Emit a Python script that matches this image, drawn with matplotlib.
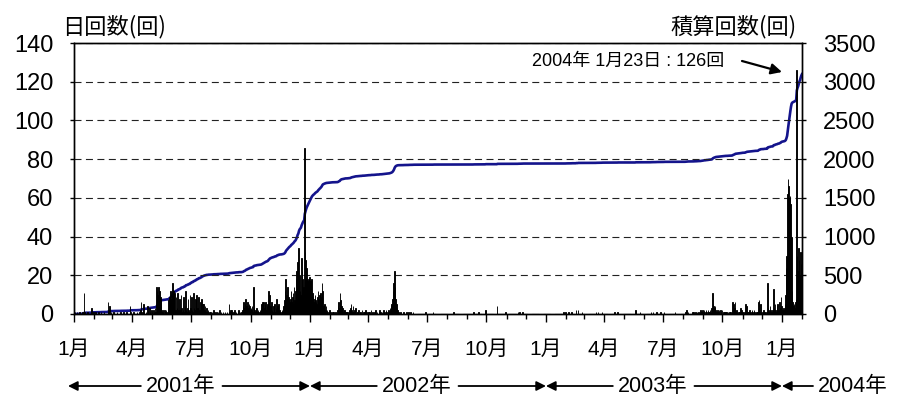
import numpy as np
import pandas as pd
import matplotlib
matplotlib.use("Agg")
import matplotlib.pyplot as plt
import matplotlib.dates as mdates
from matplotlib.ticker import FuncFormatter, MultipleLocator

# ---- daily counts, one list per month (day 1 .. end of month) ----
d2001_01 = [0,1,0,0,1,0,0,0,1,0,0,0,0,1,0,11,1,0,0,0,1,0,0,0,0,0,1,3,0,0,1]
d2001_02 = [0,0,1,0,0,0,1,0,0,0,1,0,0,0,0,1,0,0,0,0,0,6,1,4,0,0,1,0]
d2001_03 = [0,0,1,0,0,0,0,1,0,0,0,0,1,0,0,0,0,1,0,0,0,0,1,0,0,0,0,4,1,0,0]
d2001_04 = [0,0,1,0,0,0,0,1,0,0,0,1,2,6,1,0,2,5,1,0,0,1,0,4,2,0,3,1,0,2]
d2001_05 = [1,0,2,1,0,3,1,14,12,10,14,10,12,9,8,1,2,1,0,2,1,1,2,0,1,2,7,9,5,12,8]
d2001_06 = [10,16,12,9,11,2,9,1,3,11,2,1,8,2,10,3,1,2,9,1,4,12,2,1,3,8,2,1,10,3]
d2001_07 = [9,2,1,11,3,2,8,1,10,2,3,9,1,2,6,3,8,5,3,5,2,4,1,3,0,1,2,0,1,0,1]
d2001_08 = [0,1,0,2,0,1,0,0,1,0,1,0,0,2,0,1,0,0,1,0,0,1,0,0,1,0,0,5,1,0,2]
d2001_09 = [2,1,0,1,0,2,0,1,0,0,1,2,0,1,0,0,1,2,4,6,3,5,8,4,2,6,3,5,4,2]
d2001_10 = [3,2,4,1,14,3,2,1,2,3,1,2,1,0,2,1,3,5,6,4,6,3,5,6,2,4,5,12,8,10,4]
d2001_11 = [3,6,2,1,4,2,5,1,3,8,4,1,5,2,1,0,1,2,1,3,4,7,12,18,10,8,14,9,8,6]
d2001_12 = [8,12,6,9,11,5,14,7,12,18,22,27,16,34,20,12,10,29,22,18,14,10,86,32,28,24,19,17,18,16,19]
d2002_01 = [17,16,18,11,9,6,8,10,7,6,5,9,12,8,10,7,11,9,16,12,4,3,5,2,4,1,2,1,0,1,2]
d2002_02 = [1,0,0,1,0,1,0,0,1,0,0,2,4,6,3,11,7,4,2,3,1,2,2,1,0,1,0,1]
d2002_03 = [0,1,2,3,5,2,1,4,1,2,1,3,0,1,1,0,2,0,1,1,0,2,0,1,0,1,2,0,1,0,1]
d2002_04 = [1,0,1,0,2,0,1,0,0,1,0,2,0,1,0,0,1,2,0,1,0,1,0,2,1,0,1,2,1,0]
d2002_05 = [1,2,1,3,2,4,5,8,12,16,22,14,8,5,3,2,1,0,0,1,0,0,0,0,1,0,0,0,0,1,0]
d2003_08 = [0,0,0,1,0,2,0,1,0,0,0,0,0,0,1,0,1,0,0,1,0,1,0,1,0,0,1,2,1,1,2]
d2003_09 = [1,2,0,1,2,1,0,2,1,1,2,0,1,3,11,5,4,3,4,2,1,0,2,1,2,0,2,1,0,2]
d2003_10 = [0,1,0,1,1,0,1,0,1,0,1,0,1,0,1,6,2,5,3,6,1,2,1,0,1,0,1,3,1,2,1]
d2003_11 = [1,0,0,1,5,2,4,1,0,1,2,1,0,1,2,0,1,2,1,0,0,1,0,1,6,7,1,5,1,0]
d2003_12 = [1,0,2,1,1,0,0,1,16,3,2,1,4,2,1,0,2,13,3,1,5,2,1,4,5,2,1,6,3,9,4]
d2004_01 = [2,1,3,2,5,10,24,30,62,70,66,60,61,57,40,12,6,4,5,3,6,8,126,30,22,34,28,20,32,26,18]

# ---- quiet stretch (Jun 2002 - Jul 2003): only the days with events ----
quiet_dates = ["2002-06-02", "2002-06-05", "2002-06-09", "2002-06-28", "2002-07-10",
               "2002-08-10", "2002-09-10", "2002-09-18", "2002-09-29", "2002-10-17",
               "2002-10-30", "2002-11-18", "2002-11-21", "2002-11-25", "2003-01-28",
               "2003-01-31", "2003-02-04", "2003-02-09", "2003-02-16", "2003-02-19",
               "2003-02-25", "2003-03-19", "2003-03-22", "2003-03-28", "2003-04-16",
               "2003-04-21", "2003-05-19", "2003-05-26", "2003-06-12", "2003-06-15",
               "2003-06-20", "2003-06-27", "2003-07-02", "2003-07-19"]
quiet_counts = [1, 1, 1, 1, 1, 1, 1, 1, 2, 4,
                1, 1, 1, 1, 1, 1, 1, 1, 2, 2,
                1, 1, 1, 1, 1, 1, 2, 1, 1, 1,
                1, 1, 1, 1]

month_ticks = ["1月", "4月", "7月", "10月"]
year_labels = ["2001年", "2002年", "2003年", "2004年"]

monthly_blocks = [
    ("2001-01", d2001_01), ("2001-02", d2001_02), ("2001-03", d2001_03),
    ("2001-04", d2001_04), ("2001-05", d2001_05), ("2001-06", d2001_06),
    ("2001-07", d2001_07), ("2001-08", d2001_08), ("2001-09", d2001_09),
    ("2001-10", d2001_10), ("2001-11", d2001_11), ("2001-12", d2001_12),
    ("2002-01", d2002_01), ("2002-02", d2002_02), ("2002-03", d2002_03),
    ("2002-04", d2002_04), ("2002-05", d2002_05),
    ("2003-08", d2003_08), ("2003-09", d2003_09), ("2003-10", d2003_10),
    ("2003-11", d2003_11), ("2003-12", d2003_12), ("2004-01", d2004_01),
]

parts = []
for month, vals in monthly_blocks:
    idx = pd.date_range(month + "-01", periods=len(vals), freq="D")
    parts.append(pd.Series(vals, index=idx))
parts.append(pd.Series(quiet_counts, index=pd.to_datetime(quiet_dates)))
daily = pd.concat(parts).groupby(level=0).sum()
days = pd.date_range("2001-01-01", "2004-01-31", freq="D")
daily = daily.reindex(days, fill_value=0)
cumulative = daily.cumsum()

# ---- figure ----
W, H = 901, 397
fig = plt.figure(figsize=(W / 100, H / 100), dpi=100)
ax = fig.add_axes([74 / W, (H - 314) / H, 728 / W, 271 / H])
ax2 = ax.twinx()
ax.set_zorder(ax2.get_zorder() + 1)
ax.patch.set_visible(False)

num_font = ["Liberation Sans", "Noto Sans CJK JP"]
cjk_font = ["Noto Sans CJK JP", "Liberation Sans"]

nz = daily[daily > 0]
ax.bar(nz.index.to_pydatetime(), nz.values, width=1.0, align="edge",
       color="black", edgecolor="black", linewidth=0.65, zorder=3)

line_x = [pd.Timestamp("2001-01-01").to_pydatetime()] + \
         list((days + pd.Timedelta(days=1)).to_pydatetime())
line_y = [0] + list(cumulative.values)
ax2.plot(line_x, line_y, color="#14148c", linewidth=1.9, solid_joinstyle="round")

x0 = pd.Timestamp("2001-01-01").to_pydatetime()
x1 = pd.Timestamp("2004-02-01").to_pydatetime()
ax.set_xlim(x0, x1)
ax.set_ylim(0, 140)
ax2.set_ylim(0, 3500)

ax.yaxis.set_major_locator(MultipleLocator(20))
ax2.yaxis.set_major_locator(MultipleLocator(500))
ax.yaxis.grid(True, linestyle=(0, (6.3, 4)), color="#222222", linewidth=0.8, zorder=0)
ax.set_axisbelow(True)

ax.xaxis.set_major_locator(mdates.MonthLocator(bymonth=[1, 4, 7, 10]))
ax.xaxis.set_minor_locator(mdates.MonthLocator())
ax.xaxis.set_major_formatter(
    FuncFormatter(lambda v, pos: month_ticks[(mdates.num2date(v).month - 1) // 3]))

ax.tick_params(axis="x", which="major", direction="out", length=6, width=1.0,
               pad=13, labelsize=15)
ax.tick_params(axis="x", which="minor", direction="out", length=3.5, width=1.0)
ax.tick_params(axis="y", direction="out", length=3, width=1.0, pad=12, labelsize=17)
ax2.tick_params(axis="y", direction="out", length=3, width=1.0, pad=12, labelsize=17)
for lab in ax.get_xticklabels() + ax.get_yticklabels() + ax2.get_yticklabels():
    lab.set_family(num_font)

for a in (ax, ax2):
    for s in a.spines.values():
        s.set_linewidth(1.0)
        s.set_color("black")

# axis titles
fig.text(62 / W, 1 - 27 / H, "日回数(回)", fontsize=16, family=cjk_font,
         ha="left", va="center")
fig.text(797 / W, 1 - 27 / H, "積算回数(回)", fontsize=16, family=cjk_font,
         ha="right", va="center")

# peak annotation
peak_day = daily.idxmax()
peak_val = int(daily.max())
note = f"{peak_day.year}年 {peak_day.month}月{peak_day.day}日 : {peak_val}回"
fig.text(628 / W, 1 - 61 / H, note, fontsize=13, family=num_font,
         ha="center", va="center")
ax.annotate("", xy=(782, H - 72), xytext=(742, H - 61),
            xycoords="figure pixels", textcoords="figure pixels",
            arrowprops=dict(arrowstyle="-|>", color="black", lw=1.6,
                            mutation_scale=16, shrinkA=0, shrinkB=0))

# year spans under the month labels
fig.canvas.draw()
y_row = H - 386
bounds = [pd.Timestamp(f"{y}-01-01") for y in (2001, 2002, 2003, 2004)]
def px(ts):
    return ax.transData.transform((mdates.date2num(ts.to_pydatetime()), 0))[0]

arrow_kw = dict(arrowstyle="-|>", color="black", lw=1.3, mutation_scale=14,
                shrinkA=0, shrinkB=0)
for i, (b, lab) in enumerate(zip(bounds, year_labels)):
    if i < 3:
        cx = px(b + pd.Timedelta(days=165))
        t = fig.text(cx / W, y_row / H, lab, fontsize=15.5, family=num_font,
                     ha="center", va="center")
    else:
        t = fig.text(818 / W, y_row / H, lab, fontsize=15.5, family=num_font,
                     ha="left", va="center")
    bb = t.get_window_extent(renderer=fig.canvas.get_renderer())
    left_tip = px(b) - (6 if i == 0 else 0)
    ax.annotate("", xy=(left_tip, y_row), xytext=(bb.x0 - 5, y_row),
                xycoords="figure pixels", textcoords="figure pixels",
                arrowprops=arrow_kw)
    if i < 3:
        ax.annotate("", xy=(px(bounds[i + 1]), y_row), xytext=(bb.x1 + 7, y_row),
                    xycoords="figure pixels", textcoords="figure pixels",
                    arrowprops=arrow_kw)

fig.savefig("out.png", dpi=100)
